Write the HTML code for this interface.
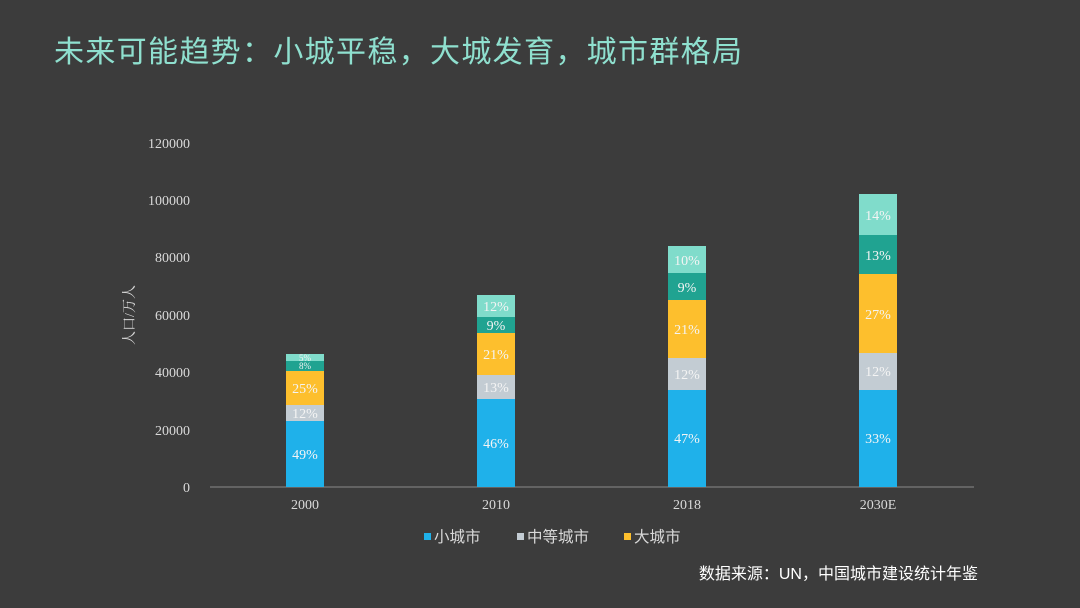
<!DOCTYPE html>
<html><head><meta charset="utf-8"><style>
body{margin:0;background:#3c3c3c;}
svg{display:block}
</style></head><body>
<svg width="1080" height="608" xmlns="http://www.w3.org/2000/svg" font-family="Liberation Serif, Noto Serif CJK SC, serif">
<rect width="1080" height="608" fill="#3c3c3c"/>
<text x="54" y="62" font-size="30" fill="#8fe0cf" textLength="688" lengthAdjust="spacing" font-family="Liberation Sans, Noto Sans CJK SC, sans-serif">未来可能趋势：小城平稳，大城发育，城市群格局</text>
<g fill="#d9d9d9" font-size="14" text-anchor="end">
<text x="190" y="492">0</text><text x="190" y="435">20000</text><text x="190" y="377">40000</text><text x="190" y="320">60000</text><text x="190" y="262">80000</text><text x="190" y="205">100000</text><text x="190" y="148">120000</text>
</g>
<text transform="translate(134,315) rotate(-90)" fill="#d9d9d9" font-size="14" text-anchor="middle">人口/万人</text>
<line x1="210" y1="487" x2="974" y2="487" stroke="#8a8a8a" stroke-width="1"/>
<g fill="#d9d9d9" font-size="14" text-anchor="middle">
<text x="305" y="509">2000</text><text x="496" y="509">2010</text><text x="687" y="509">2018</text><text x="878" y="509">2030E</text>
</g>
<g>
<rect x="286" y="421" width="38" height="66" fill="#1fb1ea"/>
<rect x="286" y="405" width="38" height="16" fill="#c3ccd3"/>
<rect x="286" y="371" width="38" height="34" fill="#fdbf2d"/>
<rect x="286" y="361" width="38" height="10" fill="#20a391"/>
<rect x="286" y="354" width="38" height="7" fill="#80dccb"/>
<rect x="477" y="399" width="38" height="88" fill="#1fb1ea"/>
<rect x="477" y="375" width="38" height="24" fill="#c3ccd3"/>
<rect x="477" y="333" width="38" height="42" fill="#fdbf2d"/>
<rect x="477" y="317" width="38" height="16" fill="#20a391"/>
<rect x="477" y="295" width="38" height="22" fill="#80dccb"/>
<rect x="668" y="390" width="38" height="97" fill="#1fb1ea"/>
<rect x="668" y="358" width="38" height="32" fill="#c3ccd3"/>
<rect x="668" y="300" width="38" height="58" fill="#fdbf2d"/>
<rect x="668" y="273" width="38" height="27" fill="#20a391"/>
<rect x="668" y="246" width="38" height="27" fill="#80dccb"/>
<rect x="859" y="390" width="38" height="97" fill="#1fb1ea"/>
<rect x="859" y="353" width="38" height="37" fill="#c3ccd3"/>
<rect x="859" y="274" width="38" height="79" fill="#fdbf2d"/>
<rect x="859" y="235" width="38" height="39" fill="#20a391"/>
<rect x="859" y="194" width="38" height="41" fill="#80dccb"/>
</g>
<g fill="#f4f4f4" font-size="14" text-anchor="middle">
<text x="305" y="459">49%</text><text x="305" y="418">12%</text><text x="305" y="393">25%</text>
<text x="305" y="369" font-size="9">8%</text><text x="305" y="361" font-size="9">5%</text>
<text x="496" y="448">46%</text><text x="496" y="392">13%</text><text x="496" y="359">21%</text><text x="496" y="330">9%</text><text x="496" y="311">12%</text>
<text x="687" y="443">47%</text><text x="687" y="379">12%</text><text x="687" y="334">21%</text><text x="687" y="292">9%</text><text x="687" y="265">10%</text>
<text x="878" y="443">33%</text><text x="878" y="376">12%</text><text x="878" y="319">27%</text><text x="878" y="260">13%</text><text x="878" y="220">14%</text>
</g>
<g font-size="15.5" fill="#d9d9d9" font-family="Liberation Sans, Noto Sans CJK SC, sans-serif">
<rect x="424" y="533" width="7" height="7" fill="#1fb1ea"/><text x="434" y="542">小城市</text>
<rect x="517" y="533" width="7" height="7" fill="#c3ccd3"/><text x="527" y="542">中等城市</text>
<rect x="624" y="533" width="7" height="7" fill="#fdbf2d"/><text x="634" y="542">大城市</text>
</g>
<text x="978" y="579" font-size="16" fill="#ffffff" text-anchor="end" font-family="Liberation Sans, Noto Sans CJK SC, sans-serif">数据来源：UN，中国城市建设统计年鉴</text>
</svg>
</body></html>
